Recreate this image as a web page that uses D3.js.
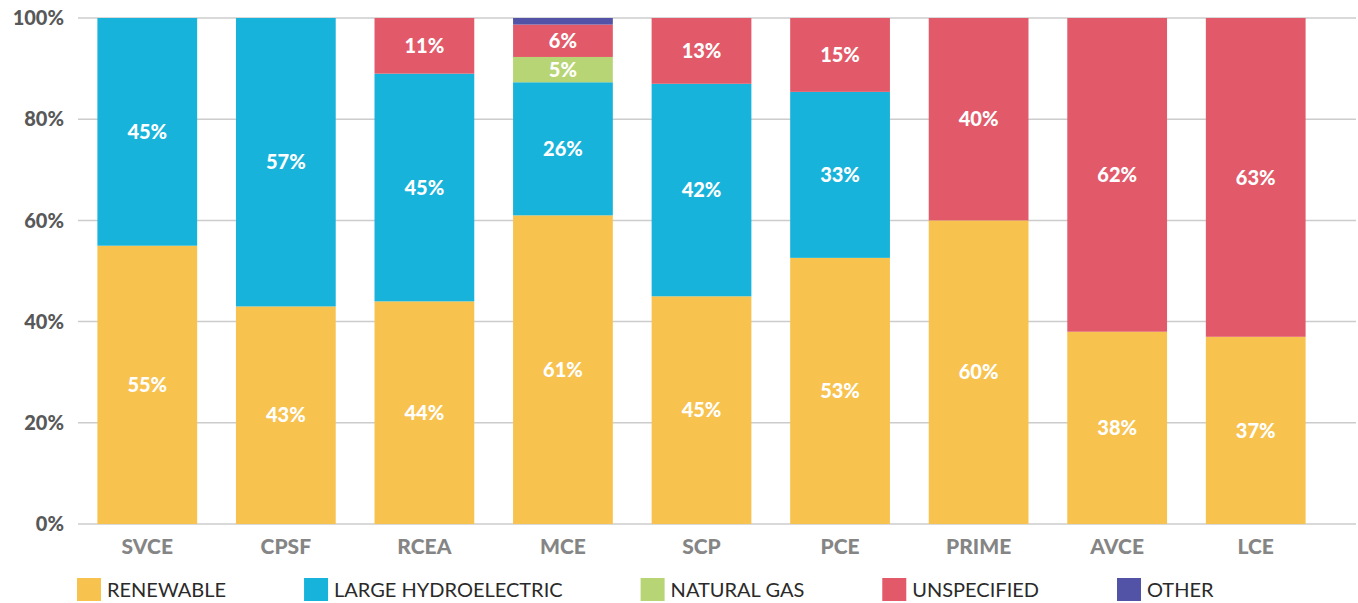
<!DOCTYPE html>
<html>
<head>
<meta charset="utf-8">
<script src="https://cdn.jsdelivr.net/npm/d3@7"></script>
<style>
  body { margin: 0; background: #fff; }
  svg { display: block; font-family: Lato, "Open Sans", sans-serif; }
</style>
</head>
<body>
<div id="chart"></div>
<script>
const categories = ["SVCE", "CPSF", "RCEA", "MCE", "SCP", "PCE", "PRIME", "AVCE", "LCE"];
const seriesNames = ["RENEWABLE", "LARGE HYDROELECTRIC", "NATURAL GAS", "UNSPECIFIED", "OTHER"];
const renewable   = [55, 43, 44, 61, 45, 52.6, 60, 38, 37];
const hydro       = [45, 57, 45, 26.3, 42, 32.8, 0, 0, 0];
const naturalGas  = [0, 0, 0, 5, 0, 0, 0, 0, 0];
const unspecified = [0, 0, 11, 6.4, 13, 14.6, 40, 62, 63];
const other       = [0, 0, 0, 1.3, 0, 0, 0, 0, 0];
const yTicks = [0, 20, 40, 60, 80, 100];

const colors = ["#f8c24f", "#17b3da", "#b7d574", "#e25a69", "#5252a6"];
const seriesKeys = ["renewable", "hydro", "gas", "unspecified", "other"];
const seriesValues = [renewable, hydro, naturalGas, unspecified, other];

const rows = categories.map((c, i) => {
  const r = { name: c };
  seriesKeys.forEach((k, j) => r[k] = seriesValues[j][i]);
  return r;
});

const width = 1358, height = 603;
const svg = d3.select("#chart").append("svg")
  .attr("width", width)
  .attr("height", height);

const x = d3.scaleBand()
  .domain(categories)
  .range([78, 1325])
  .paddingInner(0.28)
  .paddingOuter(0.14);

const y = d3.scaleLinear()
  .domain([0, 100])
  .range([524, 18]);

// gridlines
svg.append("g")
  .selectAll("line")
  .data(yTicks)
  .join("line")
  .attr("x1", 78)
  .attr("x2", 1356)
  .attr("y1", d => y(d))
  .attr("y2", d => y(d))
  .attr("stroke", "#cccccc")
  .attr("stroke-width", 1.5);

// y tick labels
svg.append("g")
  .selectAll("text")
  .data(yTicks)
  .join("text")
  .attr("x", 64)
  .attr("y", d => y(d))
  .attr("dy", "0.36em")
  .attr("text-anchor", "end")
  .attr("font-size", 20)
  .attr("font-weight", 900)
  .attr("fill", "#585858")
  .text(d => d + "%");

const stack = d3.stack().keys(seriesKeys);
const layers = stack(rows);

const gLayer = svg.append("g")
  .selectAll("g")
  .data(layers)
  .join("g")
  .attr("fill", (d, i) => colors[i]);

gLayer.selectAll("rect")
  .data(d => d.filter(s => s[1] - s[0] > 0))
  .join("rect")
  .attr("x", d => x(d.data.name))
  .attr("width", x.bandwidth())
  .attr("y", d => y(d[1]))
  .attr("height", d => y(d[0]) - y(d[1]));

// value labels, skipped for thin slices
gLayer.selectAll("text")
  .data(d => d.filter(s => s[1] - s[0] >= 4))
  .join("text")
  .attr("x", d => x(d.data.name) + x.bandwidth() / 2)
  .attr("y", d => (y(d[0]) + y(d[1])) / 2)
  .attr("dy", "0.36em")
  .attr("text-anchor", "middle")
  .attr("font-size", 20)
  .attr("font-weight", 900)
  .attr("fill", "#fff")
  .text(d => Math.round(d[1] - d[0]) + "%");

// category labels
svg.append("g")
  .selectAll("text")
  .data(categories)
  .join("text")
  .attr("x", d => x(d) + x.bandwidth() / 2)
  .attr("y", 554)
  .attr("text-anchor", "middle")
  .attr("font-size", 21)
  .attr("font-weight", 900)
  .attr("fill", "#858585")
  .text(d => d);

// legend
const legend = svg.append("g").attr("transform", "translate(77,578)");
let lx = 0;
seriesNames.forEach((name, i) => {
  const item = legend.append("g").attr("transform", `translate(${lx},0)`);
  item.append("rect")
    .attr("width", 24)
    .attr("height", 23)
    .attr("fill", colors[i]);
  const t = item.append("text")
    .attr("x", 30)
    .attr("y", 19)
    .attr("font-size", 20)
    .attr("fill", "#2a2a2a")
    .text(name);
  lx += 30 + t.node().getComputedTextLength() + 78;
});
</script>
</body>
</html>
